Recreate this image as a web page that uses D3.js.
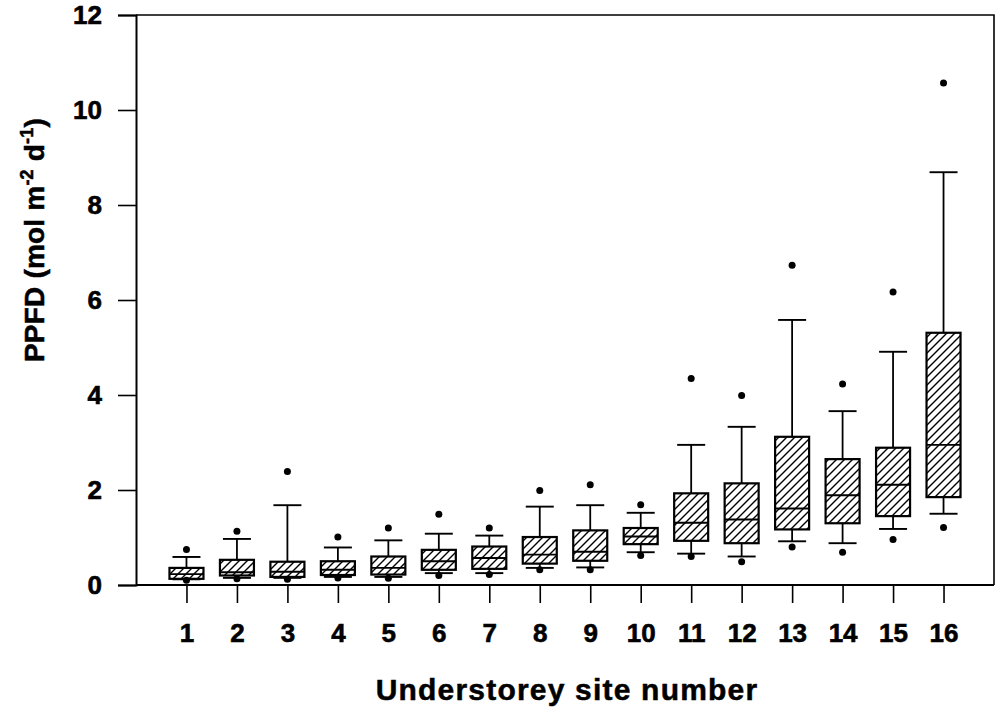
<!DOCTYPE html>
<html>
<head>
<meta charset="utf-8">
<script src="https://cdn.jsdelivr.net/npm/d3@7"></script>
<style>
  html, body { margin: 0; padding: 0; background: #fff; }
  svg { display: block; }
  text { font-family: "Liberation Sans", Arial, Helvetica, sans-serif; font-weight: bold; fill: #000; }
</style>
</head>
<body>
<svg id="chart" width="997" height="708"></svg>
<script>
// ---- data ----
const sites      = [1, 2, 3, 4, 5, 6, 7, 8, 9, 10, 11, 12, 13, 14, 15, 16];
const outlierLow = [0.10, 0.13, 0.12, 0.15, 0.14, 0.20, 0.22, 0.32, 0.32, 0.62, 0.60, 0.49, 0.80, 0.69, 0.96, 1.21];
const whiskerLow = [0.12, 0.15, 0.15, 0.17, 0.17, 0.25, 0.25, 0.36, 0.37, 0.69, 0.66, 0.60, 0.92, 0.88, 1.18, 1.50];
const q1         = [0.13, 0.20, 0.17, 0.21, 0.22, 0.32, 0.34, 0.45, 0.51, 0.86, 0.93, 0.88, 1.17, 1.30, 1.45, 1.85];
const median     = [0.23, 0.27, 0.28, 0.32, 0.36, 0.50, 0.57, 0.64, 0.70, 1.02, 1.31, 1.38, 1.61, 1.89, 2.11, 2.95];
const q3         = [0.36, 0.53, 0.49, 0.50, 0.60, 0.74, 0.81, 1.01, 1.15, 1.20, 1.93, 2.14, 3.12, 2.65, 2.89, 5.31];
const whiskerHigh= [0.59, 0.97, 1.68, 0.79, 0.94, 1.08, 1.04, 1.65, 1.68, 1.52, 2.95, 3.33, 5.58, 3.66, 4.91, 8.69];
const outlierHigh= [0.75, 1.13, 2.39, 1.01, 1.20, 1.49, 1.20, 1.99, 2.11, 1.69, 4.35, 3.99, 6.73, 4.23, 6.17, 10.57];
const yTicks     = [0, 2, 4, 6, 8, 10, 12];
const xLabel = "Understorey site number";

(function () {
const rows = sites.map((s, i) => ({
  site: s, lo: outlierLow[i], wl: whiskerLow[i], q1: q1[i], med: median[i],
  q3: q3[i], wh: whiskerHigh[i], hi: outlierHigh[i]
}));

// ---- layout ----
const mL = 136, mR = 994, mT = 15, mB = 585;
const svg = d3.select("#chart");
const x = d3.scaleLinear().domain([0, 17]).range([mL, mR]);
const y = d3.scaleLinear().domain([0, 12]).range([mB, mT]);

const boxW = 34, capW = 28;
const fontFam = '"Liberation Sans", Arial, sans-serif';

// hatch pattern
const defs = svg.append("defs");
const pat = defs.append("pattern")
  .attr("id", "hatch").attr("patternUnits", "userSpaceOnUse")
  .attr("width", 8).attr("height", 8);
pat.append("rect").attr("width", 8).attr("height", 8).attr("fill", "#fff");
pat.append("path")
  .attr("d", "M-2,2 L2,-2 M0,8 L8,0 M6,10 L10,6")
  .attr("stroke", "#000").attr("stroke-width", 1.4);

// frame (top and right)
svg.append("path")
  .attr("d", `M${mL},${mT} H${mR} V${mB}`)
  .attr("fill", "none").attr("stroke", "#000").attr("stroke-width", 1.6);

// y axis
const yAxis = d3.axisLeft(y).tickValues(yTicks).tickSize(18).tickPadding(16).tickFormat(d3.format("d"));
const gy = svg.append("g").attr("transform", `translate(${mL},0)`).call(yAxis);
gy.select(".domain").attr("stroke", "#000").attr("stroke-width", 2);
gy.selectAll(".tick line").attr("stroke", "#000").attr("stroke-width", 1.6);
gy.selectAll(".tick text").style("font-size", "26px").style("font-weight", "bold")
  .style("font-family", fontFam).attr("fill", "#000")
  .attr("stroke", "#000").attr("stroke-width", 0.6);

// x axis
const xAxis = d3.axisBottom(x).tickValues(sites).tickSize(18).tickPadding(21).tickFormat(d3.format("d"));
const gx = svg.append("g").attr("transform", `translate(0,${mB})`).call(xAxis);
gx.select(".domain").attr("d", `M${mL},0H${mR}`).attr("stroke", "#000").attr("stroke-width", 2);
gx.selectAll(".tick line").attr("stroke", "#000").attr("stroke-width", 1.6);
gx.selectAll(".tick text").style("font-size", "26px").style("font-weight", "bold")
  .style("font-family", fontFam).attr("fill", "#000")
  .attr("stroke", "#000").attr("stroke-width", 0.6);

// boxes
const b = svg.append("g").selectAll("g.box").data(rows).join("g").attr("class", "box");

// upper whisker
b.append("line")
  .attr("x1", d => x(d.site)).attr("x2", d => x(d.site))
  .attr("y1", d => y(d.q3)).attr("y2", d => y(d.wh))
  .attr("stroke", "#000").attr("stroke-width", 1.8);
b.append("line")
  .attr("x1", d => x(d.site) - capW / 2).attr("x2", d => x(d.site) + capW / 2)
  .attr("y1", d => y(d.wh)).attr("y2", d => y(d.wh))
  .attr("stroke", "#000").attr("stroke-width", 1.9);
// lower whisker
b.append("line")
  .attr("x1", d => x(d.site)).attr("x2", d => x(d.site))
  .attr("y1", d => y(d.q1)).attr("y2", d => y(d.wl))
  .attr("stroke", "#000").attr("stroke-width", 1.8);
b.append("line")
  .attr("x1", d => x(d.site) - capW / 2).attr("x2", d => x(d.site) + capW / 2)
  .attr("y1", d => y(d.wl)).attr("y2", d => y(d.wl))
  .attr("stroke", "#000").attr("stroke-width", 1.9);
// box
b.append("rect")
  .attr("x", d => x(d.site) - boxW / 2).attr("width", boxW)
  .attr("y", d => y(d.q3)).attr("height", d => y(d.q1) - y(d.q3))
  .attr("fill", "url(#hatch)").attr("stroke", "#000").attr("stroke-width", 2.2);
// median
b.append("line")
  .attr("x1", d => x(d.site) - boxW / 2).attr("x2", d => x(d.site) + boxW / 2)
  .attr("y1", d => y(d.med)).attr("y2", d => y(d.med))
  .attr("stroke", "#000").attr("stroke-width", 1.9);
// outliers
b.append("circle").attr("cx", d => x(d.site)).attr("cy", d => y(d.hi)).attr("r", 3.5).attr("fill", "#000");
b.append("circle").attr("cx", d => x(d.site)).attr("cy", d => y(d.lo)).attr("r", 3.5).attr("fill", "#000");

// axis titles
svg.append("text")
  .attr("x", 567).attr("y", 700)
  .attr("text-anchor", "middle").style("font-size", "30px")
  .style("letter-spacing", "1.2px")
  .attr("stroke", "#000").attr("stroke-width", 0.5)
  .text(xLabel);

const yt = svg.append("text")
  .attr("transform", "translate(44,240) rotate(-90)")
  .attr("text-anchor", "middle").style("font-size", "28px")
  .style("letter-spacing", "0.2px")
  .attr("stroke", "#000").attr("stroke-width", 0.5);
yt.append("tspan").text("PPFD (mol m");
yt.append("tspan").attr("dy", -11).style("font-size", "18px").text("-2");
yt.append("tspan").attr("dy", 11).text(" d");
yt.append("tspan").attr("dy", -11).style("font-size", "18px").text("-1");
yt.append("tspan").attr("dy", 11).text(")");
})();
</script>
</body>
</html>
